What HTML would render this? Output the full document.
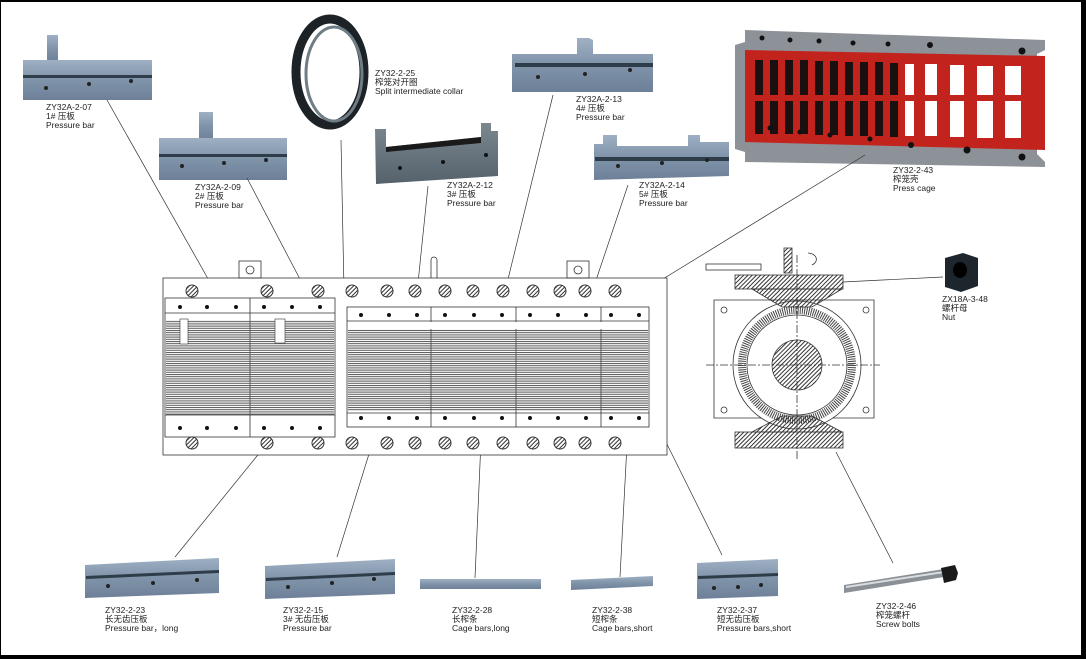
<!DOCTYPE html>
<html><head><meta charset="utf-8"><style>
html,body{margin:0;padding:0;background:#000;}
#c{position:absolute;left:1px;top:2px;width:1080px;height:653px;background:#fff;overflow:hidden}
svg{position:absolute;left:-1px;top:-2px}
text{font-family:"Liberation Sans","Noto Sans CJK SC",sans-serif;font-size:8.5px;fill:#222}
</style></head><body><div id="c">
<svg width="1086" height="659" viewBox="0 0 1086 659">
<defs>
<linearGradient id="steel" x1="0" y1="0" x2="0" y2="1">
<stop offset="0" stop-color="#9fb0c4"/><stop offset="0.5" stop-color="#7f93a9"/><stop offset="1" stop-color="#6d8098"/></linearGradient>
<linearGradient id="dsteel" x1="0" y1="0" x2="0" y2="1">
<stop offset="0" stop-color="#7c8890"/><stop offset="1" stop-color="#55616b"/></linearGradient>
<pattern id="hl" width="4" height="2.2" patternUnits="userSpaceOnUse"><rect width="4" height="1" fill="#555"/></pattern>
<pattern id="hatch" width="3" height="3" patternUnits="userSpaceOnUse" patternTransform="rotate(45)"><rect width="1" height="3" fill="#333"/></pattern>
<g id="hc"><circle r="6" fill="url(#hatch)" stroke="#333" stroke-width="1"/></g>
</defs>

<rect x="47" y="35" width="11" height="27" fill="url(#steel)"/>
<rect x="23" y="60" width="129" height="40" fill="url(#steel)"/>
<rect x="23" y="75" width="129" height="3" fill="#2f3d4a"/>
<circle cx="46" cy="88" r="2" fill="#222"/><circle cx="89" cy="84" r="2" fill="#222"/><circle cx="131" cy="81" r="2" fill="#222"/>
<text x="46" y="110">ZY32A-2-07</text><text x="46" y="119">1# 压板</text><text x="46" y="128">Pressure bar</text>

<rect x="199" y="112" width="14" height="28" fill="url(#steel)"/>
<rect x="159" y="138" width="128" height="42" fill="url(#steel)"/>
<rect x="159" y="154" width="128" height="3" fill="#2f3d4a"/>
<circle cx="182" cy="166" r="2" fill="#222"/><circle cx="224" cy="163" r="2" fill="#222"/><circle cx="266" cy="160" r="2" fill="#222"/>
<text x="195" y="190">ZY32A-2-09</text><text x="195" y="199">2# 压板</text><text x="195" y="208">Pressure bar</text>

<ellipse cx="330" cy="72" rx="34" ry="53" fill="none" stroke="#1c2226" stroke-width="9"/>
<ellipse cx="334" cy="74" rx="28" ry="47" fill="none" stroke="#6f7d86" stroke-width="3"/>
<text x="375" y="76">ZY32-2-25</text><text x="375" y="85">榨笼对开圈</text><text x="375" y="94">Split intermediate collar</text>

<path d="M375 129h11v18l95-10v-14h10v8h7v45l-122 8z" fill="url(#dsteel)"/>
<path d="M386 147l95-10v6l-95 9z" fill="#1a1a1a"/>
<circle cx="400" cy="168" r="2" fill="#111"/><circle cx="443" cy="162" r="2" fill="#111"/><circle cx="486" cy="155" r="2" fill="#111"/>
<text x="447" y="188">ZY32A-2-12</text><text x="447" y="197">3# 压板</text><text x="447" y="206">Pressure bar</text>

<path d="M577 38h12l4 2v14h60v38h-141v-38h65z" fill="url(#steel)"/>
<rect x="515" y="63" width="138" height="4" fill="#2f3d4a"/>
<circle cx="538" cy="77" r="2" fill="#222"/><circle cx="585" cy="74" r="2" fill="#222"/><circle cx="630" cy="70" r="2" fill="#222"/>
<text x="576" y="102">ZY32A-2-13</text><text x="576" y="111">4# 压板</text><text x="576" y="120">Pressure bar</text>

<path d="M603 135h14v11h71v-11h12v7h29v34l-135 4v-36h9z" fill="url(#steel)"/>
<rect x="595" y="157" width="134" height="4" fill="#2f3d4a"/>
<circle cx="618" cy="166" r="2" fill="#222"/><circle cx="662" cy="163" r="2" fill="#222"/><circle cx="707" cy="160" r="2" fill="#222"/>
<text x="639" y="188">ZY32A-2-14</text><text x="639" y="197">5# 压板</text><text x="639" y="206">Pressure bar</text>

<path d="M745 30l300 10v10l-8 4v100l8 8v5l-300-5v-10l-10-3v-104l10-3z" fill="#8c9298"/>
<path d="M745 50l300 6v94l-300-8z" fill="#c3231d"/>
<g fill="#1a1010">
<path d="M755 60h8v74h-8z M770 60h8v74h-8z M785 60h8v74h-8z M800 60h8v74h-8z M815 61h8v74h-8z M830 61h8v74h-8z M845 62h8v74h-8z M860 62h8v74h-8z M875 62h8v74h-8z M890 63h8v74h-8z"/>
</g>
<g fill="#fff">
<path d="M905 64h9v72h-9z M925 64h12v72h-12z M950 65h14v72h-14z M977 66h16v72h-16z M1005 66h16v72h-16z"/>
</g>
<rect x="745" y="95" width="300" height="6" fill="#c3231d"/>
<g fill="#111">
<circle cx="762" cy="38" r="2.5"/><circle cx="790" cy="40" r="2.5"/><circle cx="819" cy="41" r="2.5"/><circle cx="853" cy="43" r="2.5"/><circle cx="888" cy="44" r="2.5"/><circle cx="930" cy="45" r="3"/><circle cx="1022" cy="51" r="3.5"/>
<circle cx="770" cy="128" r="2.5"/><circle cx="800" cy="132" r="2.5"/><circle cx="830" cy="135" r="2.5"/><circle cx="870" cy="139" r="2.5"/><circle cx="911" cy="145" r="3"/><circle cx="967" cy="150" r="3.5"/><circle cx="1022" cy="157" r="3.5"/>
</g>
<text x="893" y="173">ZY32-2-43</text><text x="893" y="182">榨笼壳</text><text x="893" y="191">Press cage</text>

<path d="M945 258l18-5 15 5v28l-17 6-16-5z" fill="#1e262d"/>
<ellipse cx="960" cy="270" rx="7" ry="8" fill="#000"/>
<text x="942" y="302">ZX18A-3-48</text><text x="942" y="311">螺杆母</text><text x="942" y="320">Nut</text>

<path d="M85 565l134-7v35l-134 5z" fill="url(#steel)"/>
<path d="M86 576l133-6v3l-133 6z" fill="#2f3d4a"/>
<circle cx="108" cy="586" r="2" fill="#222"/><circle cx="153" cy="583" r="2" fill="#222"/><circle cx="197" cy="580" r="2" fill="#222"/>
<text x="105" y="613">ZY32-2-23</text><text x="105" y="622">长无齿压板</text><text x="105" y="631">Pressure bar，long</text>

<path d="M265 566l130-7v35l-130 5z" fill="url(#steel)"/>
<path d="M266 578l129-6v3l-129 6z" fill="#2f3d4a"/>
<circle cx="288" cy="587" r="2" fill="#222"/><circle cx="332" cy="583" r="2" fill="#222"/><circle cx="374" cy="579" r="2" fill="#222"/>
<text x="283" y="613">ZY32-2-15</text><text x="283" y="622">3# 无齿压板</text><text x="283" y="631">Pressure bar</text>

<rect x="420" y="579" width="121" height="10" fill="url(#steel)"/>
<text x="452" y="613">ZY32-2-28</text><text x="452" y="622">长榨条</text><text x="452" y="631">Cage bars,long</text>

<path d="M571 580l82-4v10l-82 4z" fill="url(#steel)"/>
<text x="592" y="613">ZY32-2-38</text><text x="592" y="622">短榨条</text><text x="592" y="631">Cage bars,short</text>

<path d="M697 563l81-4v37l-81 3z" fill="url(#steel)"/>
<path d="M698 576l80-3v3l-80 3z" fill="#2f3d4a"/>
<circle cx="714" cy="588" r="2" fill="#222"/><circle cx="738" cy="587" r="2" fill="#222"/><circle cx="761" cy="585" r="2" fill="#222"/>
<text x="717" y="613">ZY32-2-37</text><text x="717" y="622">短无齿压板</text><text x="717" y="631">Pressure bars,short</text>

<path d="M844 585l100-16v8l-100 16z" fill="#8a9096"/>
<path d="M846 586l98-15v2l-98 15z" fill="#d8dde0"/>
<path d="M941 568l14-3 3 8-2 7-12 3z" fill="#1a1a1a"/>
<text x="876" y="609">ZY32-2-46</text><text x="876" y="618">榨笼螺杆</text><text x="876" y="627">Screw bolts</text>

<g stroke="#333" stroke-width="0.7" fill="none">
<line x1="107" y1="100" x2="220" y2="300"/>
<line x1="247" y1="178" x2="313" y2="304"/>
<line x1="341" y1="140" x2="345" y2="340"/>
<line x1="428" y1="186" x2="415" y2="312"/>
<line x1="553" y1="95" x2="500" y2="312"/>
<line x1="628" y1="185" x2="585" y2="313"/>
<line x1="865" y1="155" x2="645" y2="290"/>
<line x1="943" y1="277" x2="843" y2="282"/>
<line x1="836" y1="452" x2="893" y2="563"/>
<line x1="270" y1="440" x2="175" y2="557"/>
<line x1="378" y1="425" x2="337" y2="557"/>
<line x1="483" y1="395" x2="475" y2="578"/>
<line x1="630" y1="388" x2="620" y2="577"/>
<line x1="655" y1="420" x2="722" y2="555"/>
</g>

<g stroke="#333" stroke-width="0.8" fill="none">
<rect x="163" y="278" width="504" height="177" fill="#fff"/>
<rect x="239" y="261" width="22" height="17"/><circle cx="250" cy="270" r="4"/>
<rect x="567" y="261" width="22" height="17"/><circle cx="578" cy="270" r="4"/>
<path d="M431 278v-18a2 2 0 0 1 6 0v18"/>
<rect x="165" y="298" width="170" height="139" fill="#fff"/>
<line x1="165" y1="313" x2="335" y2="313"/><line x1="165" y1="415" x2="335" y2="415"/>
<line x1="250" y1="298" x2="250" y2="437"/>
<rect x="347" y="307" width="302" height="120" fill="#fff"/>
<line x1="347" y1="321" x2="649" y2="321"/><line x1="347" y1="413" x2="649" y2="413"/>
<line x1="431" y1="307" x2="431" y2="427"/><line x1="516" y1="307" x2="516" y2="427"/><line x1="601" y1="307" x2="601" y2="427"/>
</g>
<rect x="166" y="320" width="168" height="95" fill="url(#hl)"/>
<rect x="180" y="319" width="8" height="25" fill="#fff" stroke="#333" stroke-width="0.6"/>
<rect x="275" y="319" width="10" height="24" fill="#fff" stroke="#333" stroke-width="0.6"/>
<rect x="348" y="328" width="300" height="83" fill="url(#hl)"/>
<rect x="348" y="322" width="300" height="7" fill="#fff"/>
<g fill="#111">
<circle cx="180" cy="307" r="2"/><circle cx="207" cy="307" r="2"/><circle cx="236" cy="307" r="2"/><circle cx="264" cy="307" r="2"/><circle cx="292" cy="307" r="2"/><circle cx="320" cy="307" r="2"/>
<circle cx="180" cy="428" r="2"/><circle cx="207" cy="428" r="2"/><circle cx="236" cy="428" r="2"/><circle cx="264" cy="428" r="2"/><circle cx="292" cy="428" r="2"/><circle cx="320" cy="428" r="2"/>
<circle cx="361" cy="315" r="2"/><circle cx="389" cy="315" r="2"/><circle cx="417" cy="315" r="2"/><circle cx="445" cy="315" r="2"/><circle cx="474" cy="315" r="2"/><circle cx="502" cy="315" r="2"/><circle cx="530" cy="315" r="2"/><circle cx="558" cy="315" r="2"/><circle cx="586" cy="315" r="2"/><circle cx="611" cy="315" r="2"/><circle cx="639" cy="315" r="2"/>
<circle cx="361" cy="418" r="2"/><circle cx="389" cy="418" r="2"/><circle cx="417" cy="418" r="2"/><circle cx="445" cy="418" r="2"/><circle cx="474" cy="418" r="2"/><circle cx="502" cy="418" r="2"/><circle cx="530" cy="418" r="2"/><circle cx="558" cy="418" r="2"/><circle cx="586" cy="418" r="2"/><circle cx="611" cy="418" r="2"/><circle cx="639" cy="418" r="2"/>
</g>
<g>
<use href="#hc" x="192" y="291"/><use href="#hc" x="267" y="291"/><use href="#hc" x="318" y="291"/><use href="#hc" x="352" y="291"/><use href="#hc" x="387" y="291"/><use href="#hc" x="415" y="291"/><use href="#hc" x="445" y="291"/><use href="#hc" x="473" y="291"/><use href="#hc" x="503" y="291"/><use href="#hc" x="533" y="291"/><use href="#hc" x="560" y="291"/><use href="#hc" x="585" y="291"/><use href="#hc" x="615" y="291"/>
<use href="#hc" x="192" y="443"/><use href="#hc" x="267" y="443"/><use href="#hc" x="318" y="443"/><use href="#hc" x="352" y="443"/><use href="#hc" x="387" y="443"/><use href="#hc" x="415" y="443"/><use href="#hc" x="445" y="443"/><use href="#hc" x="473" y="443"/><use href="#hc" x="503" y="443"/><use href="#hc" x="533" y="443"/><use href="#hc" x="560" y="443"/><use href="#hc" x="585" y="443"/><use href="#hc" x="615" y="443"/>
</g>

<g stroke="#333" stroke-width="0.8" fill="none">
<path d="M714 300h160v118h-160z"/>
<circle cx="797" cy="365" r="64" fill="#fff"/>
<circle cx="797" cy="365" r="55" stroke="#444" stroke-width="8" stroke-dasharray="1 1.2"/>
<circle cx="797" cy="365" r="50"/>
<circle cx="797" cy="365" r="25" fill="url(#hatch)"/>
<line x1="706" y1="365" x2="880" y2="365" stroke-dasharray="8 2 2 2"/>
<line x1="797" y1="255" x2="797" y2="460" stroke-dasharray="8 2 2 2"/>
<circle cx="724" cy="310" r="3"/><circle cx="866" cy="310" r="3"/><circle cx="724" cy="410" r="3"/><circle cx="866" cy="410" r="3"/>
<rect x="735" y="275" width="108" height="14" fill="url(#hatch)"/>
<path d="M752 289h90l-30 18h-30z" fill="url(#hatch)"/>
<rect x="735" y="432" width="108" height="16" fill="url(#hatch)"/>
<path d="M752 432h90l-30-16h-30z" fill="url(#hatch)"/>
<rect x="706" y="264" width="55" height="6"/>
<path d="M784 248h8v25h-8z" fill="url(#hatch)"/>
<path d="M808 253c8 0 12 8 4 12"/>
</g>
</svg></div></body></html>
